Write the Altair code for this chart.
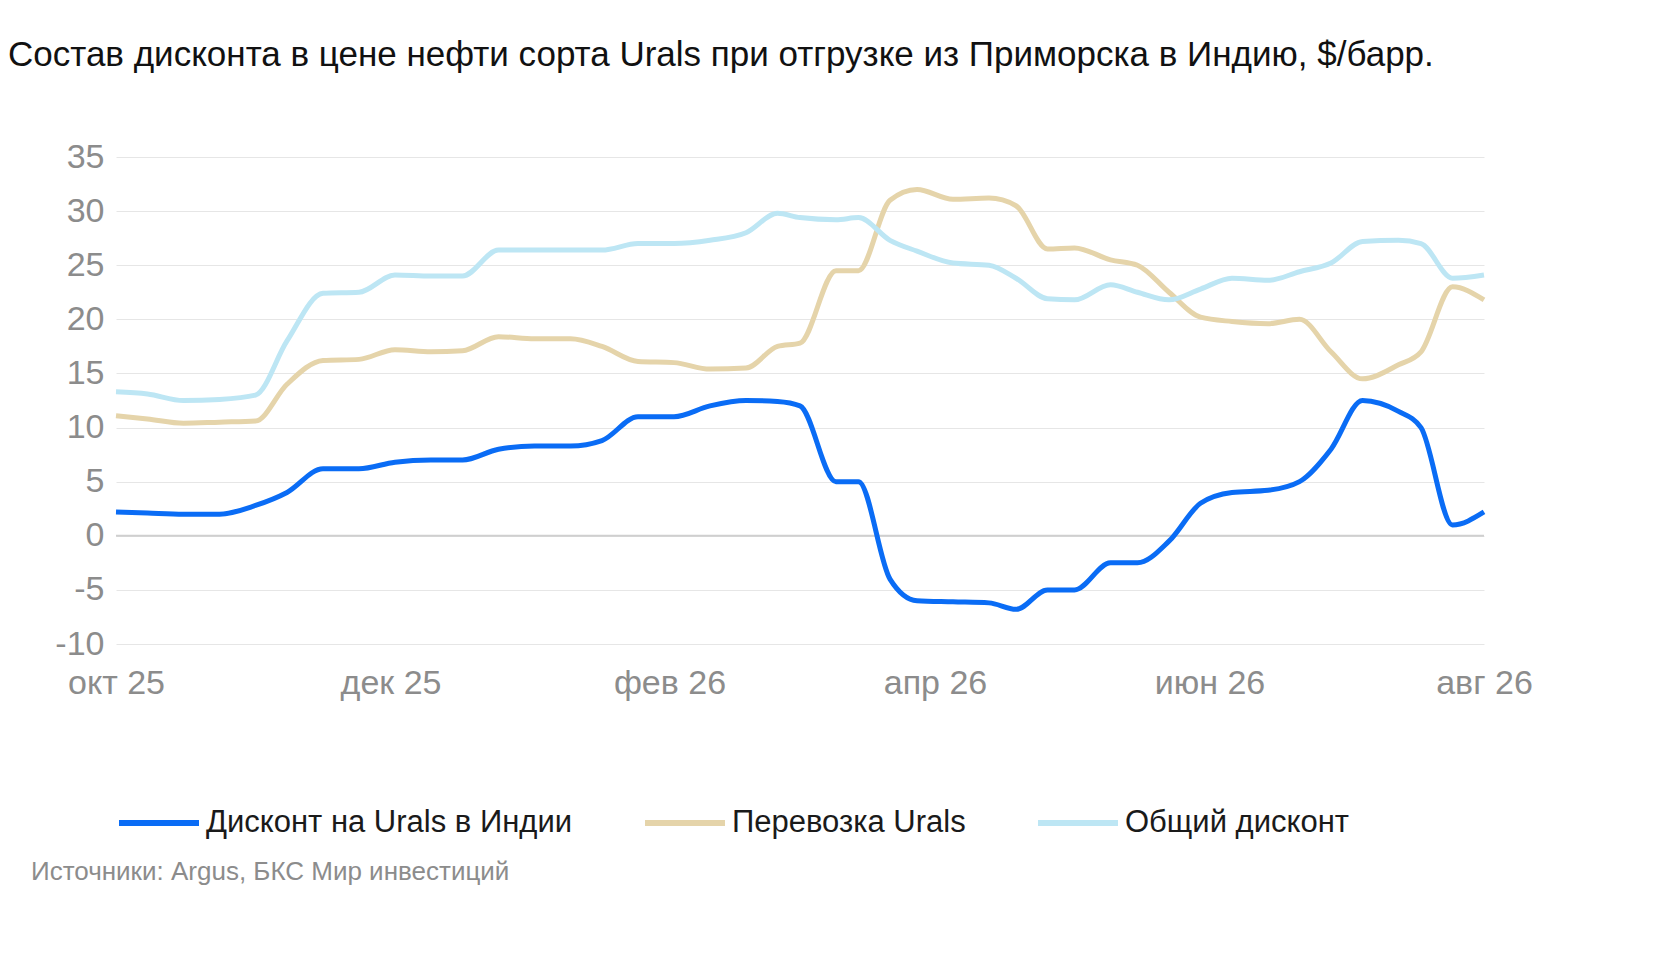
import altair as alt
import pandas as pd

DATES = ["2025-10-01", "2025-10-08", "2025-10-16", "2025-10-24", "2025-11-01", "2025-11-08",
         "2025-11-16", "2025-11-24", "2025-12-02", "2025-12-10", "2025-12-17", "2025-12-25",
         "2026-01-02", "2026-01-10", "2026-01-17", "2026-01-25", "2026-02-02", "2026-02-10",
         "2026-02-18", "2026-02-25", "2026-03-02", "2026-03-10", "2026-03-15", "2026-03-22",
         "2026-03-28", "2026-04-05", "2026-04-13", "2026-04-19", "2026-04-26", "2026-05-02",
         "2026-05-10", "2026-05-16", "2026-05-23", "2026-05-30", "2026-06-06", "2026-06-14",
         "2026-06-21", "2026-06-28", "2026-07-05", "2026-07-13", "2026-07-18", "2026-07-25",
         "2026-08-01"]
DISCOUNT_INDIA = [2.2, 2.1, 2.0, 2.0, 2.8, 4.0, 6.2, 6.2, 6.8, 7.0, 7.0, 8.0, 8.3, 8.3, 8.8,
                  11.0, 11.0, 12.0, 12.5, 12.4, 12.0, 5.0, 5.0, -4.0, -6.0, -6.1, -6.2, -6.8,
                  -5.0, -5.0, -2.5, -2.5, -0.5, 3.0, 4.0, 4.2, 5.0, 8.0, 12.5, 11.5, 10.0,
                  1.0, 2.2]
FREIGHT = [11.1, 10.8, 10.4, 10.5, 10.6, 14.0, 16.2, 16.3, 17.2, 17.0, 17.1, 18.4, 18.2, 18.2,
           17.5, 16.1, 16.0, 15.4, 15.5, 17.5, 17.8, 24.5, 24.5, 31.0, 32.0, 31.1, 31.2, 30.5,
           26.5, 26.6, 25.5, 25.0, 22.5, 20.2, 19.8, 19.6, 20.0, 17.0, 14.5, 15.8, 17.0,
           23.0, 21.8]
TOTAL = [13.3, 13.1, 12.5, 12.6, 13.0, 18.0, 22.4, 22.5, 24.1, 24.0, 24.0, 26.4, 26.4, 26.4,
         26.4, 27.0, 27.0, 27.3, 28.0, 29.8, 29.4, 29.2, 29.4, 27.3, 26.3, 25.2, 25.0, 23.8,
         21.9, 21.8, 23.2, 22.5, 21.8, 22.8, 23.8, 23.6, 24.4, 25.2, 27.2, 27.3, 27.0,
         23.8, 24.1]

SERIES = ["Дисконт на Urals в Индии", "Перевозка Urals", "Общий дисконт"]
COLORS = ["#0A6CF5", "#E5D4AA", "#BDE6F4"]
X_TICKS = ["2025-10-01", "2025-12-01", "2026-02-01", "2026-04-01", "2026-06-01", "2026-08-01"]
MONTHS = ["янв", "фев", "мар", "апр", "май", "июн", "июл", "авг", "сен", "окт", "ноя", "дек"]

df = pd.DataFrame({"date": DATES, SERIES[0]: DISCOUNT_INDIA, SERIES[1]: FREIGHT,
                   SERIES[2]: TOTAL}).melt("date", var_name="series", value_name="v")

month_expr = "[" + ",".join(f"'{m}'" for m in MONTHS) + "][month(datum.value)] + ' ' + timeFormat(datum.value, '%y')"

lines = alt.Chart(df).mark_line(interpolate="monotone", strokeWidth=5).encode(
    x=alt.X("date:T", title=None,
            scale=alt.Scale(domain=["2025-10-01", "2026-08-01"]),
            axis=alt.Axis(values=X_TICKS, labelExpr=month_expr, grid=False, ticks=False,
                          domain=False, labelFontSize=34, labelColor="#8C8C8C",
                          labelPadding=22, labelFlush=False)),
    y=alt.Y("v:Q", title=None,
            scale=alt.Scale(domain=[-10, 35], nice=False),
            axis=alt.Axis(values=list(range(-10, 40, 5)), ticks=False, domain=False,
                          labelExpr="'' + datum.value",
                          labelFontSize=34, labelColor="#8C8C8C", labelPadding=12,
                          gridColor="#E6E6E6")),
    color=alt.Color("series:N", sort=SERIES,
                    scale=alt.Scale(domain=SERIES, range=COLORS),
                    legend=alt.Legend(orient="bottom", title=None, symbolType="stroke",
                                      symbolStrokeWidth=6, symbolSize=6400,
                                      labelFontSize=31, labelColor="#1a1a1a",
                                      columnPadding=60, offset=80, labelLimit=600)),
    order=alt.Order("series:N"))

zero = alt.Chart(pd.DataFrame({"y": [0]})).mark_rule(color="#CFCFCF", strokeWidth=2).encode(y="y:Q")

source = alt.Chart(pd.DataFrame({"t": ["Источники: Argus, БКС Мир инвестиций"]})).mark_text(
    align="left", baseline="middle", fontSize=26, color="#8C8C8C").encode(
    x=alt.value(-85), y=alt.value(715), text="t:N")

chart = (zero + lines + source).properties(
    width=1368, height=487,
    title=alt.TitleParams("Состав дисконта в цене нефти сорта Urals при отгрузке из Приморска в Индию, $/барр.",
                          anchor="start", fontSize=35, fontWeight="normal", color="#111111",
                          offset=67, dx=-23),
    padding={"left": 0, "top": 30, "right": 30, "bottom": 20}
).configure(font="Liberation Sans").configure_view(stroke=None)

chart.save("out.html", embed_options={"renderer": "svg", "actions": False})
